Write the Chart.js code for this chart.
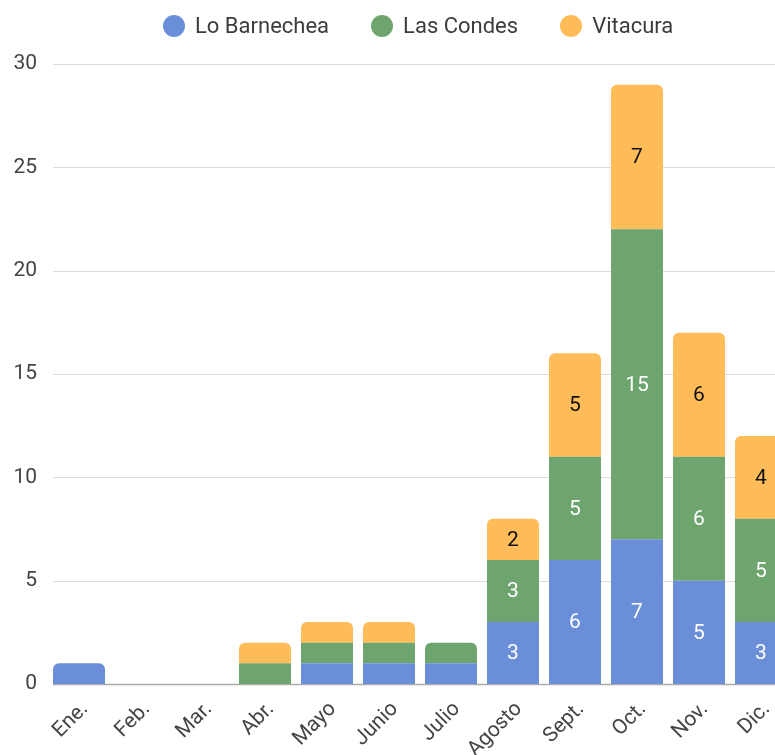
<!DOCTYPE html>
<html>
<head>
<meta charset="utf-8">
<script src="https://cdn.jsdelivr.net/npm/chart.js@4.4.0/dist/chart.umd.min.js"></script>
<style>
  html, body { margin: 0; padding: 0; background: #fff; overflow: hidden; }
  #wrap { position: relative; width: 800px; height: 755px; }
  #legend {
    position: absolute; top: 15px; left: 163px;
    display: flex; align-items: center;
    font-family: Roboto, sans-serif; font-size: 22px; line-height: 22px; color: #3c3c3c;
  }
  .item { display: flex; align-items: center; margin-right: 42px; }
  .dot { width: 22px; height: 22px; border-radius: 50%; margin-right: 10px; }
</style>
</head>
<body>
<div id="wrap">
  <canvas id="chart"></canvas>
  <div id="legend"></div>
</div>
<script>
const months = ['Ene.', 'Feb.', 'Mar.', 'Abr.', 'Mayo', 'Junio', 'Julio', 'Agosto', 'Sept.', 'Oct.', 'Nov.', 'Dic.'];
const loBarnechea = [1, 0, 0, 0, 1, 1, 1, 3, 6, 7, 5, 3];
const lasCondes   = [0, 0, 0, 1, 1, 1, 1, 3, 5, 15, 6, 5];
const vitacura    = [0, 0, 0, 1, 1, 1, 0, 2, 5, 7, 6, 4];
const seriesNames  = ['Lo Barnechea', 'Las Condes', 'Vitacura'];
const seriesColors = ['#6a8ed8', '#6ea56f', '#ffbc58'];
const labelColors  = ['#ffffff', '#ffffff', '#111111'];
const yTicks = [0, 5, 10, 15, 20, 25, 30];

const seriesData = [loBarnechea, lasCondes, vitacura];

// round only the top corners of the highest non-zero segment
function topRadius(ctx) {
    const i = ctx.dataIndex;
    const d = ctx.datasetIndex;
    if (!(seriesData[d][i] > 0)) return 0;
    for (let k = d + 1; k < seriesData.length; k++) {
        if (seriesData[k][i] > 0) return 0;
    }
    return { topLeft: 6, topRight: 6, bottomLeft: 0, bottomRight: 0 };
}

const gridLines = {
    id: 'gridLines',
    beforeDatasetsDraw(chart) {
        const { ctx, chartArea, scales: { y } } = chart;
        ctx.save();
        yTicks.forEach(t => {
            const py = Math.round(y.getPixelForValue(t)) + 0.5;
            ctx.beginPath();
            ctx.strokeStyle = t === 0 ? '#adadad' : '#dcdcdc';
            ctx.lineWidth = t === 0 ? 1.5 : 1;
            ctx.moveTo(chartArea.left + 5, py);
            ctx.lineTo(chartArea.right, py);
            ctx.stroke();
        });
        ctx.restore();
    }
};

const barLabels = {
    id: 'barLabels',
    afterDatasetsDraw(chart) {
        const ctx = chart.ctx;
        ctx.save();
        ctx.font = '21px Roboto';
        ctx.textAlign = 'center';
        ctx.textBaseline = 'middle';
        chart.data.datasets.forEach((ds, di) => {
            chart.getDatasetMeta(di).data.forEach((bar, i) => {
                const v = ds.data[i];
                if (v < 2) return;
                ctx.fillStyle = labelColors[di];
                ctx.fillText(String(v), bar.x, (bar.y + bar.base) / 2 + 1);
            });
        });
        ctx.restore();
    }
};

const htmlLegend = {
    id: 'htmlLegend',
    afterUpdate(chart) {
        const box = document.getElementById('legend');
        box.innerHTML = '';
        chart.data.datasets.forEach(ds => {
            const item = document.createElement('div');
            item.className = 'item';
            const dot = document.createElement('span');
            dot.className = 'dot';
            dot.style.background = ds.backgroundColor;
            const text = document.createElement('span');
            text.textContent = ds.label;
            item.appendChild(dot);
            item.appendChild(text);
            box.appendChild(item);
        });
    }
};

new Chart(document.getElementById('chart'), {
    type: 'bar',
    data: {
        labels: months,
        datasets: seriesNames.map((name, k) => ({
            label: name,
            data: seriesData[k],
            backgroundColor: seriesColors[k],
            borderWidth: 0,
            borderRadius: topRadius,
            borderSkipped: 'start',
            categoryPercentage: 1,
            barPercentage: 52 / 62
        }))
    },
    options: {
        responsive: true,
        maintainAspectRatio: false,
        animation: false,
        layout: { padding: { top: 64, right: 8, left: 0, bottom: 0 } },
        plugins: {
            legend: { display: false },
            tooltip: { enabled: false }
        },
        scales: {
            x: {
                stacked: true,
                grid: { display: false, drawTicks: false },
                border: { display: false },
                afterFit: (scale) => { scale.height = 71; },
                ticks: {
                    autoSkip: false,
                    minRotation: 45,
                    maxRotation: 45,
                    padding: 13,
                    labelOffset: 6,
                    color: '#444444',
                    font: { family: 'Roboto', size: 21 }
                }
            },
            y: {
                stacked: true,
                min: 0,
                max: 30,
                grid: { display: false, drawTicks: false },
                border: { display: false },
                afterFit: (scale) => { scale.width = 48; },
                ticks: {
                    stepSize: 5,
                    padding: 11,
                    color: '#444444',
                    font: { family: 'Roboto', size: 21 }
                }
            }
        }
    },
    plugins: [gridLines, barLabels, htmlLegend]
});
</script>
</body>
</html>
